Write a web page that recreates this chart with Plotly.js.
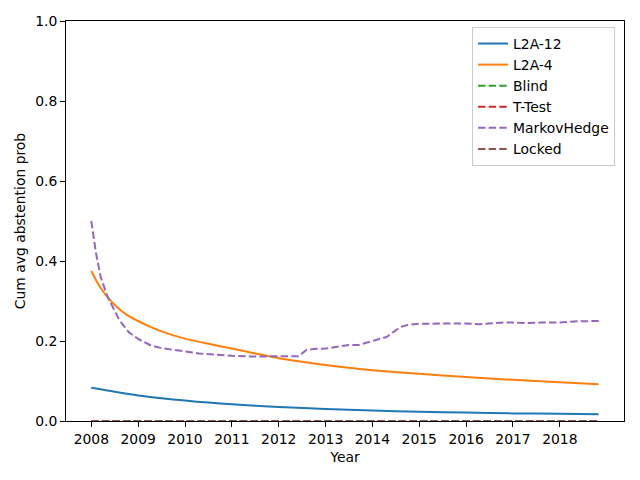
<!DOCTYPE html>
<html>
<head>
<meta charset="utf-8">
<script src="https://cdn.plot.ly/plotly-3.0.1.min.js"></script>
<style>html,body{margin:0;padding:0;background:#fff}#chart{width:640px;height:480px}</style>
</head>
<body>
<div id="chart"></div>
<script>
// Series names
const seriesNames = ["L2A-12", "L2A-4", "Blind", "T-Test", "MarkovHedge", "Locked"];

// L2A-12
const l2a12Years = [2008, 2008.5, 2009, 2009.5, 2010, 2010.5, 2011, 2011.5, 2012, 2013, 2014, 2015, 2016, 2017, 2018, 2018.83];
const l2a12Values = [0.083, 0.073, 0.064, 0.057, 0.051, 0.046, 0.042, 0.038, 0.035, 0.030, 0.026, 0.023, 0.021, 0.019, 0.018, 0.017];

// L2A-4
const l2a4Years = [2008, 2008.17, 2008.35, 2008.5, 2008.75, 2009, 2009.25, 2009.5, 2009.75, 2010, 2010.5, 2011, 2011.5, 2012, 2012.5, 2013, 2013.5, 2014, 2015, 2016, 2017, 2018, 2018.83];
const l2a4Values = [0.375, 0.338, 0.309, 0.290, 0.266, 0.250, 0.236, 0.224, 0.214, 0.206, 0.193, 0.181, 0.169, 0.157, 0.148, 0.140, 0.133, 0.127, 0.118, 0.110, 0.103, 0.097, 0.092];

// MarkovHedge
const mhYears = [2008, 2008.1, 2008.2, 2008.35, 2008.6, 2008.8, 2009, 2009.25, 2009.5, 2010, 2010.3, 2011, 2011.5, 2012, 2012.42, 2012.6, 2012.75, 2013, 2013.25, 2013.5, 2013.7, 2014, 2014.3, 2014.6, 2014.75, 2015, 2015.5, 2015.75, 2016, 2016.3, 2016.6, 2016.8, 2017, 2017.3, 2017.6, 2018, 2018.3, 2018.83];
const mhValues = [0.50, 0.42, 0.36, 0.31, 0.252, 0.222, 0.205, 0.190, 0.182, 0.173, 0.169, 0.163, 0.161, 0.162, 0.162, 0.178, 0.180, 0.181, 0.185, 0.190, 0.190, 0.200, 0.210, 0.235, 0.240, 0.243, 0.244, 0.245, 0.244, 0.242, 0.245, 0.246, 0.246, 0.245, 0.246, 0.246, 0.249, 0.250];

// Blind, T-Test, Locked (all zero)
const flatYears = [2008, 2018.83];
const blindValues = [0, 0];
const ttestValues = [0, 0];
const lockedValues = [0, 0];

// Axis ticks
const xTickVals = [2008, 2009, 2010, 2011, 2012, 2013, 2014, 2015, 2016, 2017, 2018];
const xTickText = ["2008", "2009", "2010", "2011", "2012", "2013", "2014", "2015", "2016", "2017", "2018"];
const yTickVals = [0, 0.2, 0.4, 0.6, 0.8, 1.0];
const yTickText = ["0.0", "0.2", "0.4", "0.6", "0.8", "1.0"];

const colors = ["#1f77b4", "#ff7f0e", "#2ca02c", "#d62728", "#9467bd", "#8c564b"];
const dashStyle = "7.4px,3.2px";
const FONT = "DejaVu Sans, sans-serif";

const xs = [l2a12Years, l2a4Years, flatYears, flatYears, mhYears, flatYears];
const ys = [l2a12Values, l2a4Values, blindValues, ttestValues, mhValues, lockedValues];
const dashes = ["solid", "solid", dashStyle, dashStyle, dashStyle, dashStyle];
const shapes = ["spline", "spline", "linear", "linear", "linear", "linear"];

const traces = seriesNames.map((n, i) => ({
  x: xs[i], y: ys[i], name: n, type: "scatter", mode: "lines",
  line: {color: colors[i], width: 2, dash: dashes[i], shape: shapes[i], smoothing: 0.8}
}));

const layout = {
  width: 640, height: 480,
  margin: {l: 66, r: 16, t: 21, b: 59, pad: 0},
  paper_bgcolor: "#fff", plot_bgcolor: "#fff",
  font: {family: FONT, size: 13.9, color: "#000"},
  showlegend: true,
  legend: {
    x: 0.984, y: 0.985, xanchor: "right", yanchor: "top",
    bgcolor: "rgba(255,255,255,0.8)", bordercolor: "#cccccc", borderwidth: 1,
    font: {family: FONT, size: 13.9, color: "#000"}
  },
  xaxis: {
    range: [2007.46, 2019.37], tickvals: xTickVals, ticktext: xTickText,
    showgrid: false, zeroline: false, showline: true, mirror: true,
    linecolor: "#000", linewidth: 1, ticks: "outside", ticklen: 5, tickcolor: "#000",
    title: {text: "Year", font: {family: FONT, size: 13.9}, standoff: 6},
    tickfont: {family: FONT, size: 13.9}
  },
  yaxis: {
    range: [0, 1], tickvals: yTickVals, ticktext: yTickText,
    showgrid: false, zeroline: false, showline: true, mirror: true,
    linecolor: "#000", linewidth: 1, ticks: "outside", ticklen: 5, tickcolor: "#000",
    title: {text: "Cum avg abstention prob", font: {family: FONT, size: 13.9}, standoff: 6},
    tickfont: {family: FONT, size: 13.9}
  }
};

Plotly.newPlot("chart", traces, layout, {staticPlot: true, displayModeBar: false});
</script>
</body>
</html>
